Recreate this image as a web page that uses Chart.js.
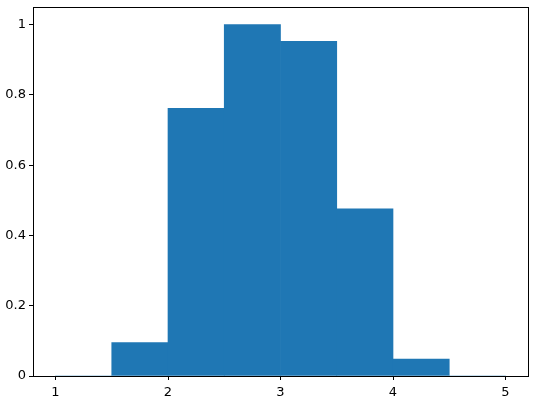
<!DOCTYPE html>
<html>
<head>
<meta charset="utf-8">
<script src="https://cdn.jsdelivr.net/npm/chart.js@4/dist/chart.umd.min.js"></script>
<style>
  html, body { margin: 0; padding: 0; background: #fff; }
  #wrap { width: 538px; height: 403px; position: relative; }
</style>
</head>
<body>
<div id="wrap"><canvas id="hist"></canvas></div>
<script>
// histogram bins (left edges, width 0.5) and normalised heights
const binCenters = [1.25, 1.75, 2.25, 2.75, 3.25, 3.75, 4.25, 4.75];
const binHeights = [0, 0.095, 0.762, 1.0, 0.952, 0.476, 0.048, 0];
const xTicks = [1, 2, 3, 4, 5];
const yTicks = [0, 0.2, 0.4, 0.6, 0.8, 1];

const barColor = '#1f77b4';
const tickFont = { family: 'DejaVu Sans', size: 13 };

// draw the frame round the plot area, like matplotlib's spines
const framePlugin = {
  id: 'frame',
  afterDraw(chart) {
    const { ctx, chartArea: a } = chart;
    ctx.save();
    ctx.strokeStyle = '#000';
    ctx.lineWidth = 1;
    ctx.strokeRect(Math.round(a.left) + 0.5, Math.round(a.top) + 0.5,
      Math.round(a.right - a.left), Math.round(a.bottom - a.top));
    ctx.restore();
  }
};

const data = binCenters.map((c, i) => ({ x: c, y: binHeights[i] }));

new Chart(document.getElementById('hist'), {
  type: 'bar',
  data: {
    datasets: [{
      data: data,
      backgroundColor: barColor,
      borderWidth: 0,
      barPercentage: 1,
      categoryPercentage: 1
    }]
  },
  options: {
    responsive: true,
    maintainAspectRatio: false,
    animation: false,
    layout: { padding: { left: 0, right: 10, top: 7, bottom: 0 } },
    plugins: { legend: { display: false }, tooltip: { enabled: false } },
    scales: {
      x: {
        type: 'linear',
        min: 0.8,
        max: 5.2,
        offset: false,
        afterBuildTicks(scale) { scale.ticks = xTicks.map(v => ({ value: v })); },
        afterFit(scale) { scale.height = 27; scale.paddingLeft = 0; scale.paddingRight = 0; },
        ticks: { color: '#000', font: tickFont, padding: 5, maxRotation: 0 },
        grid: { display: true, offset: false, drawOnChartArea: false, drawTicks: true, tickLength: 4, color: '#000' },
        border: { display: false }
      },
      y: {
        min: 0,
        max: 1.05,
        afterBuildTicks(scale) { scale.ticks = yTicks.map(v => ({ value: v })); },
        afterFit(scale) { scale.width = 33; scale.paddingTop = 0; scale.paddingBottom = 0; },
        ticks: { color: '#000', font: tickFont, padding: 3, callback: v => String(v) },
        grid: { display: true, drawOnChartArea: false, drawTicks: true, tickLength: 4, color: '#000' },
        border: { display: false }
      }
    }
  },
  plugins: [framePlugin]
});
</script>
</body>
</html>
